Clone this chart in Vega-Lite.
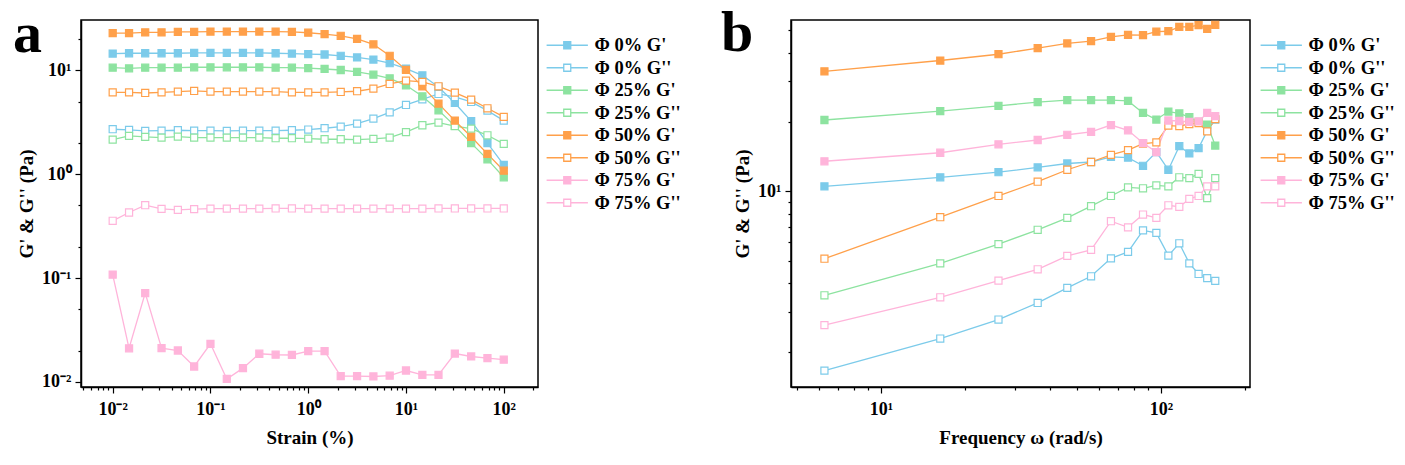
{
  "$schema": "https://vega.github.io/schema/vega-lite/v6.json",
  "background": "white",
  "padding": {"left": 12, "top": 4, "right": 5, "bottom": 5},
  "config": {
    "font": "Liberation Serif",
    "view": {"stroke": "black", "strokeWidth": 1.5},
    "axis": {
      "labelFont": "Liberation Serif", "titleFont": "Liberation Serif",
      "labelFontSize": 18, "titleFontSize": 19,
      "labelFontWeight": "bold", "titleFontWeight": "bold",
      "labelColor": "black", "titleColor": "black",
      "domainColor": "black", "domainWidth": 1.5,
      "tickColor": "black", "tickWidth": 1.2,
      "grid": false, "labelOverlap": false, "labelFlush": false
    },
    "legend": {
      "labelFont": "Liberation Serif", "labelFontSize": 18.5, "labelFontWeight": "bold", "labelColor": "black",
      "symbolType": "M-5.9,0H-1M1,0H5.9M-1,-1H1V1H-1Z",
      "symbolSize": 49, "symbolStrokeWidth": 1.3, "symbolOpacity": 1,
      "rowPadding": 3.5, "symbolOffset": 14, "labelOffset": 18, "padding": 0
    },
    "title": {"font": "Liberation Serif", "fontSize": 58, "fontWeight": "bold", "color": "black", "anchor": "start", "frame": "group", "baseline": "alphabetic", "offset": 0}
  },
  "datasets": {
    "strain": [
      {"series":"Φ 0% G'","strain":0.01,"modulus":14.5},{"series":"Φ 0% G'","strain":0.0147,"modulus":14.6},{"series":"Φ 0% G'","strain":0.0215,"modulus":14.6},{"series":"Φ 0% G'","strain":0.0316,"modulus":14.6},{"series":"Φ 0% G'","strain":0.0464,"modulus":14.6},{"series":"Φ 0% G'","strain":0.0681,"modulus":14.7},{"series":"Φ 0% G'","strain":0.1,"modulus":14.7},{"series":"Φ 0% G'","strain":0.147,"modulus":14.7},{"series":"Φ 0% G'","strain":0.215,"modulus":14.7},{"series":"Φ 0% G'","strain":0.316,"modulus":14.7},{"series":"Φ 0% G'","strain":0.464,"modulus":14.6},{"series":"Φ 0% G'","strain":0.681,"modulus":14.5},{"series":"Φ 0% G'","strain":1,"modulus":14.3},{"series":"Φ 0% G'","strain":1.47,"modulus":14.2},{"series":"Φ 0% G'","strain":2.15,"modulus":13.8},{"series":"Φ 0% G'","strain":3.16,"modulus":13.3},{"series":"Φ 0% G'","strain":4.64,"modulus":12.7},{"series":"Φ 0% G'","strain":6.81,"modulus":11.7},{"series":"Φ 0% G'","strain":10,"modulus":10.4},{"series":"Φ 0% G'","strain":14.7,"modulus":8.95},{"series":"Φ 0% G'","strain":21.5,"modulus":6.92},{"series":"Φ 0% G'","strain":31.6,"modulus":4.85},{"series":"Φ 0% G'","strain":46.4,"modulus":3.24},{"series":"Φ 0% G'","strain":68.1,"modulus":1.99},{"series":"Φ 0% G'","strain":100,"modulus":1.23},
      {"series":"Φ 0% G''","strain":0.01,"modulus":2.71},{"series":"Φ 0% G''","strain":0.0147,"modulus":2.67},{"series":"Φ 0% G''","strain":0.0215,"modulus":2.61},{"series":"Φ 0% G''","strain":0.0316,"modulus":2.63},{"series":"Φ 0% G''","strain":0.0464,"modulus":2.65},{"series":"Φ 0% G''","strain":0.0681,"modulus":2.63},{"series":"Φ 0% G''","strain":0.1,"modulus":2.63},{"series":"Φ 0% G''","strain":0.147,"modulus":2.61},{"series":"Φ 0% G''","strain":0.215,"modulus":2.63},{"series":"Φ 0% G''","strain":0.316,"modulus":2.63},{"series":"Φ 0% G''","strain":0.464,"modulus":2.63},{"series":"Φ 0% G''","strain":0.681,"modulus":2.65},{"series":"Φ 0% G''","strain":1,"modulus":2.69},{"series":"Φ 0% G''","strain":1.47,"modulus":2.77},{"series":"Φ 0% G''","strain":2.15,"modulus":2.87},{"series":"Φ 0% G''","strain":3.16,"modulus":3.07},{"series":"Φ 0% G''","strain":4.64,"modulus":3.43},{"series":"Φ 0% G''","strain":6.81,"modulus":3.94},{"series":"Φ 0% G''","strain":10,"modulus":4.64},{"series":"Φ 0% G''","strain":14.7,"modulus":5.26},{"series":"Φ 0% G''","strain":21.5,"modulus":5.92},{"series":"Φ 0% G''","strain":31.6,"modulus":5.54},{"series":"Φ 0% G''","strain":46.4,"modulus":4.96},{"series":"Φ 0% G''","strain":68.1,"modulus":4.09},{"series":"Φ 0% G''","strain":100,"modulus":3.28},
      {"series":"Φ 25% G'","strain":0.01,"modulus":10.6},{"series":"Φ 25% G'","strain":0.0147,"modulus":10.45},{"series":"Φ 25% G'","strain":0.0215,"modulus":10.6},{"series":"Φ 25% G'","strain":0.0316,"modulus":10.6},{"series":"Φ 25% G'","strain":0.0464,"modulus":10.6},{"series":"Φ 25% G'","strain":0.0681,"modulus":10.7},{"series":"Φ 25% G'","strain":0.1,"modulus":10.7},{"series":"Φ 25% G'","strain":0.147,"modulus":10.7},{"series":"Φ 25% G'","strain":0.215,"modulus":10.7},{"series":"Φ 25% G'","strain":0.316,"modulus":10.7},{"series":"Φ 25% G'","strain":0.464,"modulus":10.6},{"series":"Φ 25% G'","strain":0.681,"modulus":10.6},{"series":"Φ 25% G'","strain":1,"modulus":10.5},{"series":"Φ 25% G'","strain":1.47,"modulus":10.3},{"series":"Φ 25% G'","strain":2.15,"modulus":10.07},{"series":"Φ 25% G'","strain":3.16,"modulus":9.64},{"series":"Φ 25% G'","strain":4.64,"modulus":9.08},{"series":"Φ 25% G'","strain":6.81,"modulus":8.38},{"series":"Φ 25% G'","strain":10,"modulus":7.17},{"series":"Φ 25% G'","strain":14.7,"modulus":5.62},{"series":"Φ 25% G'","strain":21.5,"modulus":4.12},{"series":"Φ 25% G'","strain":31.6,"modulus":2.92},{"series":"Φ 25% G'","strain":46.4,"modulus":1.99},{"series":"Φ 25% G'","strain":68.1,"modulus":1.39},{"series":"Φ 25% G'","strain":100,"modulus":0.935},
      {"series":"Φ 25% G''","strain":0.01,"modulus":2.15},{"series":"Φ 25% G''","strain":0.0147,"modulus":2.34},{"series":"Φ 25% G''","strain":0.0215,"modulus":2.29},{"series":"Φ 25% G''","strain":0.0316,"modulus":2.25},{"series":"Φ 25% G''","strain":0.0464,"modulus":2.3},{"series":"Φ 25% G''","strain":0.0681,"modulus":2.25},{"series":"Φ 25% G''","strain":0.1,"modulus":2.25},{"series":"Φ 25% G''","strain":0.147,"modulus":2.25},{"series":"Φ 25% G''","strain":0.215,"modulus":2.25},{"series":"Φ 25% G''","strain":0.316,"modulus":2.25},{"series":"Φ 25% G''","strain":0.464,"modulus":2.22},{"series":"Φ 25% G''","strain":0.681,"modulus":2.22},{"series":"Φ 25% G''","strain":1,"modulus":2.2},{"series":"Φ 25% G''","strain":1.47,"modulus":2.17},{"series":"Φ 25% G''","strain":2.15,"modulus":2.17},{"series":"Φ 25% G''","strain":3.16,"modulus":2.15},{"series":"Φ 25% G''","strain":4.64,"modulus":2.19},{"series":"Φ 25% G''","strain":6.81,"modulus":2.25},{"series":"Φ 25% G''","strain":10,"modulus":2.54},{"series":"Φ 25% G''","strain":14.7,"modulus":2.96},{"series":"Φ 25% G''","strain":21.5,"modulus":3.14},{"series":"Φ 25% G''","strain":31.6,"modulus":2.9},{"series":"Φ 25% G''","strain":46.4,"modulus":2.75},{"series":"Φ 25% G''","strain":68.1,"modulus":2.37},{"series":"Φ 25% G''","strain":100,"modulus":1.96},
      {"series":"Φ 50% G'","strain":0.01,"modulus":22.8},{"series":"Φ 50% G'","strain":0.0147,"modulus":22.8},{"series":"Φ 50% G'","strain":0.0215,"modulus":23.2},{"series":"Φ 50% G'","strain":0.0316,"modulus":23.2},{"series":"Φ 50% G'","strain":0.0464,"modulus":23.4},{"series":"Φ 50% G'","strain":0.0681,"modulus":23.4},{"series":"Φ 50% G'","strain":0.1,"modulus":23.6},{"series":"Φ 50% G'","strain":0.147,"modulus":23.6},{"series":"Φ 50% G'","strain":0.215,"modulus":23.6},{"series":"Φ 50% G'","strain":0.316,"modulus":23.6},{"series":"Φ 50% G'","strain":0.464,"modulus":23.6},{"series":"Φ 50% G'","strain":0.681,"modulus":23.4},{"series":"Φ 50% G'","strain":1,"modulus":23.0},{"series":"Φ 50% G'","strain":1.47,"modulus":22.3},{"series":"Φ 50% G'","strain":2.15,"modulus":21.5},{"series":"Φ 50% G'","strain":3.16,"modulus":20.1},{"series":"Φ 50% G'","strain":4.64,"modulus":17.8},{"series":"Φ 50% G'","strain":6.81,"modulus":13.8},{"series":"Φ 50% G'","strain":10,"modulus":10.1},{"series":"Φ 50% G'","strain":14.7,"modulus":7.0},{"series":"Φ 50% G'","strain":21.5,"modulus":4.78},{"series":"Φ 50% G'","strain":31.6,"modulus":3.28},{"series":"Φ 50% G'","strain":46.4,"modulus":2.29},{"series":"Φ 50% G'","strain":68.1,"modulus":1.57},{"series":"Φ 50% G'","strain":100,"modulus":1.08},
      {"series":"Φ 50% G''","strain":0.01,"modulus":6.14},{"series":"Φ 50% G''","strain":0.0147,"modulus":6.14},{"series":"Φ 50% G''","strain":0.0215,"modulus":6.05},{"series":"Φ 50% G''","strain":0.0316,"modulus":6.14},{"series":"Φ 50% G''","strain":0.0464,"modulus":6.23},{"series":"Φ 50% G''","strain":0.0681,"modulus":6.33},{"series":"Φ 50% G''","strain":0.1,"modulus":6.23},{"series":"Φ 50% G''","strain":0.147,"modulus":6.23},{"series":"Φ 50% G''","strain":0.215,"modulus":6.23},{"series":"Φ 50% G''","strain":0.316,"modulus":6.23},{"series":"Φ 50% G''","strain":0.464,"modulus":6.23},{"series":"Φ 50% G''","strain":0.681,"modulus":6.14},{"series":"Φ 50% G''","strain":1,"modulus":6.14},{"series":"Φ 50% G''","strain":1.47,"modulus":6.14},{"series":"Φ 50% G''","strain":2.15,"modulus":6.19},{"series":"Φ 50% G''","strain":3.16,"modulus":6.29},{"series":"Φ 50% G''","strain":4.64,"modulus":6.66},{"series":"Φ 50% G''","strain":6.81,"modulus":7.39},{"series":"Φ 50% G''","strain":10,"modulus":7.96},{"series":"Φ 50% G''","strain":14.7,"modulus":7.73},{"series":"Φ 50% G''","strain":21.5,"modulus":7.02},{"series":"Φ 50% G''","strain":31.6,"modulus":6.1},{"series":"Φ 50% G''","strain":46.4,"modulus":5.22},{"series":"Φ 50% G''","strain":68.1,"modulus":4.31},{"series":"Φ 50% G''","strain":100,"modulus":3.56},
      {"series":"Φ 75% G'","strain":0.01,"modulus":0.108},{"series":"Φ 75% G'","strain":0.0147,"modulus":0.0211},{"series":"Φ 75% G'","strain":0.0215,"modulus":0.0718},{"series":"Φ 75% G'","strain":0.0316,"modulus":0.0212},{"series":"Φ 75% G'","strain":0.0464,"modulus":0.0201},{"series":"Φ 75% G'","strain":0.0681,"modulus":0.0141},{"series":"Φ 75% G'","strain":0.1,"modulus":0.0233},{"series":"Φ 75% G'","strain":0.147,"modulus":0.0107},{"series":"Φ 75% G'","strain":0.215,"modulus":0.0136},{"series":"Φ 75% G'","strain":0.316,"modulus":0.0187},{"series":"Φ 75% G'","strain":0.464,"modulus":0.0183},{"series":"Φ 75% G'","strain":0.681,"modulus":0.0182},{"series":"Φ 75% G'","strain":1,"modulus":0.0198},{"series":"Φ 75% G'","strain":1.47,"modulus":0.0198},{"series":"Φ 75% G'","strain":2.15,"modulus":0.0114},{"series":"Φ 75% G'","strain":3.16,"modulus":0.0114},{"series":"Φ 75% G'","strain":4.64,"modulus":0.0113},{"series":"Φ 75% G'","strain":6.81,"modulus":0.0115},{"series":"Φ 75% G'","strain":10,"modulus":0.0129},{"series":"Φ 75% G'","strain":14.7,"modulus":0.0117},{"series":"Φ 75% G'","strain":21.5,"modulus":0.0117},{"series":"Φ 75% G'","strain":31.6,"modulus":0.0188},{"series":"Φ 75% G'","strain":46.4,"modulus":0.0176},{"series":"Φ 75% G'","strain":68.1,"modulus":0.017},{"series":"Φ 75% G'","strain":100,"modulus":0.0164},
      {"series":"Φ 75% G''","strain":0.01,"modulus":0.356},{"series":"Φ 75% G''","strain":0.0147,"modulus":0.428},{"series":"Φ 75% G''","strain":0.0215,"modulus":0.503},{"series":"Φ 75% G''","strain":0.0316,"modulus":0.464},{"series":"Φ 75% G''","strain":0.0464,"modulus":0.454},{"series":"Φ 75% G''","strain":0.0681,"modulus":0.461},{"series":"Φ 75% G''","strain":0.1,"modulus":0.467},{"series":"Φ 75% G''","strain":0.147,"modulus":0.467},{"series":"Φ 75% G''","strain":0.215,"modulus":0.467},{"series":"Φ 75% G''","strain":0.316,"modulus":0.467},{"series":"Φ 75% G''","strain":0.464,"modulus":0.468},{"series":"Φ 75% G''","strain":0.681,"modulus":0.468},{"series":"Φ 75% G''","strain":1,"modulus":0.467},{"series":"Φ 75% G''","strain":1.47,"modulus":0.467},{"series":"Φ 75% G''","strain":2.15,"modulus":0.467},{"series":"Φ 75% G''","strain":3.16,"modulus":0.467},{"series":"Φ 75% G''","strain":4.64,"modulus":0.467},{"series":"Φ 75% G''","strain":6.81,"modulus":0.467},{"series":"Φ 75% G''","strain":10,"modulus":0.467},{"series":"Φ 75% G''","strain":14.7,"modulus":0.467},{"series":"Φ 75% G''","strain":21.5,"modulus":0.468},{"series":"Φ 75% G''","strain":31.6,"modulus":0.468},{"series":"Φ 75% G''","strain":46.4,"modulus":0.468},{"series":"Φ 75% G''","strain":68.1,"modulus":0.468},{"series":"Φ 75% G''","strain":100,"modulus":0.468}
    ],
    "freq": [
      {"series":"Φ 0% G'","omega":6.28,"modulus":10.5},{"series":"Φ 0% G'","omega":16.28,"modulus":11.5},{"series":"Φ 0% G'","omega":26.28,"modulus":12.1},{"series":"Φ 0% G'","omega":36.28,"modulus":12.7},{"series":"Φ 0% G'","omega":46.28,"modulus":13.2},{"series":"Φ 0% G'","omega":56.28,"modulus":13.4},{"series":"Φ 0% G'","omega":66.28,"modulus":14.1},{"series":"Φ 0% G'","omega":76.28,"modulus":14.0},{"series":"Φ 0% G'","omega":86.28,"modulus":12.9},{"series":"Φ 0% G'","omega":96.28,"modulus":14.8},{"series":"Φ 0% G'","omega":106.28,"modulus":12.4},{"series":"Φ 0% G'","omega":116.28,"modulus":15.7},{"series":"Φ 0% G'","omega":126.28,"modulus":14.6},{"series":"Φ 0% G'","omega":136.28,"modulus":15.4},{"series":"Φ 0% G'","omega":146.28,"modulus":18.3},{"series":"Φ 0% G'","omega":156.28,"modulus":20.5},
      {"series":"Φ 0% G''","omega":6.28,"modulus":1.66},{"series":"Φ 0% G''","omega":16.28,"modulus":2.29},{"series":"Φ 0% G''","omega":26.28,"modulus":2.77},{"series":"Φ 0% G''","omega":36.28,"modulus":3.27},{"series":"Φ 0% G''","omega":46.28,"modulus":3.8},{"series":"Φ 0% G''","omega":56.28,"modulus":4.27},{"series":"Φ 0% G''","omega":66.28,"modulus":5.11},{"series":"Φ 0% G''","omega":76.28,"modulus":5.45},{"series":"Φ 0% G''","omega":86.28,"modulus":6.76},{"series":"Φ 0% G''","omega":96.28,"modulus":6.59},{"series":"Φ 0% G''","omega":106.28,"modulus":5.25},{"series":"Φ 0% G''","omega":116.28,"modulus":5.94},{"series":"Φ 0% G''","omega":126.28,"modulus":4.86},{"series":"Φ 0% G''","omega":136.28,"modulus":4.37},{"series":"Φ 0% G''","omega":146.28,"modulus":4.19},{"series":"Φ 0% G''","omega":156.28,"modulus":4.08},
      {"series":"Φ 25% G'","omega":6.28,"modulus":20.4},{"series":"Φ 25% G'","omega":16.28,"modulus":22.3},{"series":"Φ 25% G'","omega":26.28,"modulus":23.5},{"series":"Φ 25% G'","omega":36.28,"modulus":24.4},{"series":"Φ 25% G'","omega":46.28,"modulus":24.9},{"series":"Φ 25% G'","omega":56.28,"modulus":24.9},{"series":"Φ 25% G'","omega":66.28,"modulus":24.9},{"series":"Φ 25% G'","omega":76.28,"modulus":24.7},{"series":"Φ 25% G'","omega":86.28,"modulus":21.9},{"series":"Φ 25% G'","omega":96.28,"modulus":20.5},{"series":"Φ 25% G'","omega":106.28,"modulus":22.2},{"series":"Φ 25% G'","omega":116.28,"modulus":21.8},{"series":"Φ 25% G'","omega":126.28,"modulus":21.0},{"series":"Φ 25% G'","omega":136.28,"modulus":20.0},{"series":"Φ 25% G'","omega":146.28,"modulus":19.5},{"series":"Φ 25% G'","omega":156.28,"modulus":15.8},
      {"series":"Φ 25% G''","omega":6.28,"modulus":3.53},{"series":"Φ 25% G''","omega":16.28,"modulus":4.86},{"series":"Φ 25% G''","omega":26.28,"modulus":5.89},{"series":"Φ 25% G''","omega":36.28,"modulus":6.8},{"series":"Φ 25% G''","omega":46.28,"modulus":7.66},{"series":"Φ 25% G''","omega":56.28,"modulus":8.61},{"series":"Φ 25% G''","omega":66.28,"modulus":9.54},{"series":"Φ 25% G''","omega":76.28,"modulus":10.4},{"series":"Φ 25% G''","omega":86.28,"modulus":10.3},{"series":"Φ 25% G''","omega":96.28,"modulus":10.6},{"series":"Φ 25% G''","omega":106.28,"modulus":10.5},{"series":"Φ 25% G''","omega":116.28,"modulus":11.5},{"series":"Φ 25% G''","omega":126.28,"modulus":11.4},{"series":"Φ 25% G''","omega":136.28,"modulus":11.9},{"series":"Φ 25% G''","omega":146.28,"modulus":9.33},{"series":"Φ 25% G''","omega":156.28,"modulus":11.4},
      {"series":"Φ 50% G'","omega":6.28,"modulus":33.2},{"series":"Φ 50% G'","omega":16.28,"modulus":37.0},{"series":"Φ 50% G'","omega":26.28,"modulus":39.4},{"series":"Φ 50% G'","omega":36.28,"modulus":41.9},{"series":"Φ 50% G'","omega":46.28,"modulus":43.9},{"series":"Φ 50% G'","omega":56.28,"modulus":44.9},{"series":"Φ 50% G'","omega":66.28,"modulus":46.9},{"series":"Φ 50% G'","omega":76.28,"modulus":47.8},{"series":"Φ 50% G'","omega":86.28,"modulus":47.7},{"series":"Φ 50% G'","omega":96.28,"modulus":49.4},{"series":"Φ 50% G'","omega":106.28,"modulus":49.6},{"series":"Φ 50% G'","omega":116.28,"modulus":51.8},{"series":"Φ 50% G'","omega":126.28,"modulus":51.8},{"series":"Φ 50% G'","omega":136.28,"modulus":52.7},{"series":"Φ 50% G'","omega":146.28,"modulus":50.8},{"series":"Φ 50% G'","omega":156.28,"modulus":52.9},
      {"series":"Φ 50% G''","omega":6.28,"modulus":5.09},{"series":"Φ 50% G''","omega":16.28,"modulus":7.71},{"series":"Φ 50% G''","omega":26.28,"modulus":9.54},{"series":"Φ 50% G''","omega":36.28,"modulus":11.0},{"series":"Φ 50% G''","omega":46.28,"modulus":12.4},{"series":"Φ 50% G''","omega":56.28,"modulus":13.4},{"series":"Φ 50% G''","omega":66.28,"modulus":14.4},{"series":"Φ 50% G''","omega":76.28,"modulus":15.1},{"series":"Φ 50% G''","omega":86.28,"modulus":16.1},{"series":"Φ 50% G''","omega":96.28,"modulus":16.3},{"series":"Φ 50% G''","omega":106.28,"modulus":19.3},{"series":"Φ 50% G''","omega":116.28,"modulus":19.2},{"series":"Φ 50% G''","omega":126.28,"modulus":19.6},{"series":"Φ 50% G''","omega":136.28,"modulus":19.8},{"series":"Φ 50% G''","omega":146.28,"modulus":18.2},{"series":"Φ 50% G''","omega":156.28,"modulus":20.6},
      {"series":"Φ 75% G'","omega":6.28,"modulus":13.5},{"series":"Φ 75% G'","omega":16.28,"modulus":14.7},{"series":"Φ 75% G'","omega":26.28,"modulus":16.0},{"series":"Φ 75% G'","omega":36.28,"modulus":16.7},{"series":"Φ 75% G'","omega":46.28,"modulus":17.6},{"series":"Φ 75% G'","omega":56.28,"modulus":18.1},{"series":"Φ 75% G'","omega":66.28,"modulus":19.4},{"series":"Φ 75% G'","omega":76.28,"modulus":18.4},{"series":"Φ 75% G'","omega":86.28,"modulus":16.2},{"series":"Φ 75% G'","omega":96.28,"modulus":14.8},{"series":"Φ 75% G'","omega":106.28,"modulus":20.3},{"series":"Φ 75% G'","omega":116.28,"modulus":20.2},{"series":"Φ 75% G'","omega":126.28,"modulus":20.0},{"series":"Φ 75% G'","omega":136.28,"modulus":20.1},{"series":"Φ 75% G'","omega":146.28,"modulus":21.9},{"series":"Φ 75% G'","omega":156.28,"modulus":21.2},
      {"series":"Φ 75% G''","omega":6.28,"modulus":2.62},{"series":"Φ 75% G''","omega":16.28,"modulus":3.46},{"series":"Φ 75% G''","omega":26.28,"modulus":4.09},{"series":"Φ 75% G''","omega":36.28,"modulus":4.58},{"series":"Φ 75% G''","omega":46.28,"modulus":5.24},{"series":"Φ 75% G''","omega":56.28,"modulus":5.56},{"series":"Φ 75% G''","omega":66.28,"modulus":7.41},{"series":"Φ 75% G''","omega":76.28,"modulus":6.97},{"series":"Φ 75% G''","omega":86.28,"modulus":7.92},{"series":"Φ 75% G''","omega":96.28,"modulus":7.66},{"series":"Φ 75% G''","omega":106.28,"modulus":8.69},{"series":"Φ 75% G''","omega":116.28,"modulus":8.55},{"series":"Φ 75% G''","omega":126.28,"modulus":9.26},{"series":"Φ 75% G''","omega":136.28,"modulus":9.54},{"series":"Φ 75% G''","omega":146.28,"modulus":10.5},{"series":"Φ 75% G''","omega":156.28,"modulus":10.5}
    ]
  },
  "spacing": 38,
  "resolve": {
    "scale": {"x": "independent", "y": "independent", "color": "independent", "fill": "independent"},
    "legend": {"color": "independent", "fill": "independent"}
  },
  "hconcat": [
    {
      "width": 457,
      "height": 367,
      "title": {"text": "a", "dx": -68, "dy": 48},
      "data": {"name": "strain"},
      "encoding": {
        "x": {
          "field": "strain", "type": "quantitative",
          "scale": {"type": "log", "domain": [0.00474, 224], "nice": false},
          "axis": {
            "title": "Strain (%)",
            "values": [0.005,0.006,0.007,0.008,0.009,0.01,0.02,0.03,0.04,0.05,0.06,0.07,0.08,0.09,0.1,0.2,0.3,0.4,0.5,0.6,0.7,0.8,0.9,1,2,3,4,5,6,7,8,9,10,20,30,40,50,60,70,80,90,100,200],
            "labelExpr": "datum.value == 0.01 ? '10⁻²' : datum.value == 0.1 ? '10⁻¹' : datum.value == 1 ? '10⁰' : datum.value == 10 ? '10¹' : datum.value == 100 ? '10²' : ''",
            "tickSize": {"condition": {"test": "indexof([0.01, 0.1, 1, 10, 100], datum.value) >= 0", "value": 6}, "value": 3},
            "labelPadding": 7, "titlePadding": 10
          }
        },
        "y": {
          "field": "modulus", "type": "quantitative",
          "scale": {"type": "log", "domain": [0.00895, 30.5], "nice": false},
          "axis": {
            "title": "G' & G'' (Pa)",
            "values": [0.01,0.02,0.05,0.1,0.2,0.5,1,2,5,10,20],
            "labelExpr": "datum.value == 0.01 ? '10⁻²' : datum.value == 0.1 ? '10⁻¹' : datum.value == 1 ? '10⁰' : datum.value == 10 ? '10¹' : ''",
            "tickSize": {"condition": {"test": "indexof([0.01, 0.1, 1, 10], datum.value) >= 0", "value": 6}, "value": 3},
            "labelPadding": 4, "titlePadding": 5
          }
        },
        "color": {
          "field": "series", "type": "nominal",
          "scale": {
            "domain": ["Φ 0% G'","Φ 0% G''","Φ 25% G'","Φ 25% G''","Φ 50% G'","Φ 50% G''","Φ 75% G'","Φ 75% G''"],
            "range": ["#7ccbea","#7ccbea","#8de3a0","#8de3a0","#ffa04a","#ffa04a","#ffb4da","#ffb4da"]
          },
          "legend": {"title": null, "orient": "none", "legendX": 463, "legendY": 16}
        }
      },
      "layer": [
        {"mark": {"type": "line", "strokeWidth": 1.3}},
        {
          "mark": {"type": "point", "shape": "square", "size": 50, "strokeWidth": 1.2, "opacity": 1},
          "encoding": {
            "fill": {
              "field": "series", "type": "nominal",
              "scale": {
                "domain": ["Φ 0% G'","Φ 0% G''","Φ 25% G'","Φ 25% G''","Φ 50% G'","Φ 50% G''","Φ 75% G'","Φ 75% G''"],
                "range": ["#7ccbea","#ffffff","#8de3a0","#ffffff","#ffa04a","#ffffff","#ffb4da","#ffffff"]
              },
              "legend": {"title": null, "orient": "none", "legendX": 463, "legendY": 16}
            }
          }
        }
      ]
    },
    {
      "width": 459,
      "height": 367,
      "title": {"text": "b", "dx": -70, "dy": 48},
      "data": {"name": "freq"},
      "encoding": {
        "x": {
          "field": "omega", "type": "quantitative",
          "scale": {"type": "log", "domain": [4.77, 208], "nice": false},
          "axis": {
            "title": "Frequency ω (rad/s)",
            "values": [5,6,7,8,9,10,20,30,40,50,60,70,80,90,100,200],
            "labelExpr": "datum.value == 10 ? '10¹' : datum.value == 100 ? '10²' : ''",
            "tickSize": {"condition": {"test": "datum.value == 10 || datum.value == 100", "value": 6}, "value": 3},
            "labelPadding": 7, "titlePadding": 10
          }
        },
        "y": {
          "field": "modulus", "type": "quantitative",
          "scale": {"type": "log", "domain": [1.41, 55.5], "nice": false},
          "axis": {
            "title": "G' & G'' (Pa)",
            "values": [2,3,4,5,6,7,8,9,10,20,30,40,50],
            "labelExpr": "datum.value == 10 ? '10¹' : ''",
            "tickSize": {"condition": {"test": "datum.value == 10", "value": 6}, "value": 3},
            "labelPadding": 4, "titlePadding": 5
          }
        },
        "color": {
          "field": "series", "type": "nominal",
          "scale": {
            "domain": ["Φ 0% G'","Φ 0% G''","Φ 25% G'","Φ 25% G''","Φ 50% G'","Φ 50% G''","Φ 75% G'","Φ 75% G''"],
            "range": ["#7ccbea","#7ccbea","#8de3a0","#8de3a0","#ffa04a","#ffa04a","#ffb4da","#ffb4da"]
          },
          "legend": {"title": null, "orient": "none", "legendX": 467, "legendY": 16}
        }
      },
      "layer": [
        {"mark": {"type": "line", "strokeWidth": 1.3}},
        {
          "mark": {"type": "point", "shape": "square", "size": 50, "strokeWidth": 1.2, "opacity": 1},
          "encoding": {
            "fill": {
              "field": "series", "type": "nominal",
              "scale": {
                "domain": ["Φ 0% G'","Φ 0% G''","Φ 25% G'","Φ 25% G''","Φ 50% G'","Φ 50% G''","Φ 75% G'","Φ 75% G''"],
                "range": ["#7ccbea","#ffffff","#8de3a0","#ffffff","#ffa04a","#ffffff","#ffb4da","#ffffff"]
              },
              "legend": {"title": null, "orient": "none", "legendX": 467, "legendY": 16}
            }
          }
        }
      ]
    }
  ]
}
